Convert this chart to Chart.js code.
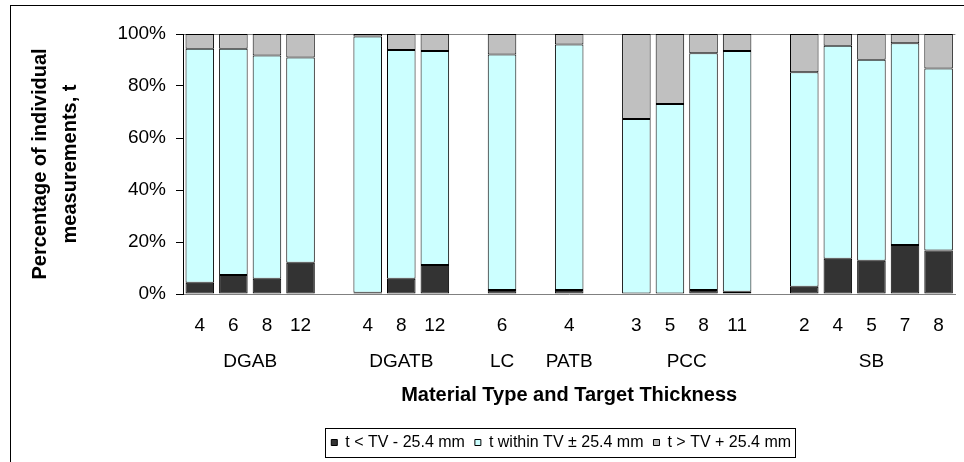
<!DOCTYPE html>
<html>
<head>
<meta charset="utf-8">
<script src="https://cdn.jsdelivr.net/npm/chart.js@4/dist/chart.umd.min.js"></script>
<style>
  html, body { margin: 0; padding: 0; background: #ffffff; }
  #wrap { position: relative; width: 964px; height: 462px; }
</style>
</head>
<body>
<div id="wrap"><canvas id="c" width="964" height="462"></canvas></div>
<script>
// ---- Data ----
const groupNames = ['DGAB', 'DGATB', 'LC', 'PATB', 'PCC', 'SB'];
const thickness = [['4','6','8','12'], ['4','8','12'], ['6'], ['4'], ['3','5','8','11'], ['2','4','5','7','8']];
const belowTV  = [[4.3, 7.3, 5.9, 12.0], [0.5, 5.9, 11.2], [1.5], [1.5], [0, 0, 1.5, 0.9], [2.8, 13.6, 12.8, 18.8, 16.7]];
const withinTV = [[90.0, 87.0, 85.8, 79.0], [98.5, 87.9, 82.3], [90.6], [94.5], [67.3, 73.1, 91.1, 92.6], [82.5, 81.9, 77.3, 77.6, 70.0]];
const aboveTV  = [[5.7, 5.7, 8.3, 9.0], [1.0, 6.2, 6.5], [7.9], [4.0], [32.7, 26.9, 7.4, 6.5], [14.7, 4.5, 9.9, 3.6, 13.3]];
const seriesNames = ['t < TV - 25.4 mm', 't within TV \u00b1 25.4 mm', 't > TV + 25.4 mm'];
const yTicks = [0, 20, 40, 60, 80, 100];

// ---- Flatten into category slots with an empty slot between groups ----
const labels = [], low = [], mid = [], high = [], groupCenters = [];
groupNames.forEach((g, gi) => {
  if (gi > 0) { labels.push(''); low.push(null); mid.push(null); high.push(null); }
  const start = labels.length;
  thickness[gi].forEach((t, i) => {
    labels.push(t); low.push(belowTV[gi][i]); mid.push(withinTV[gi][i]); high.push(aboveTV[gi][i]);
  });
  groupCenters.push((start + labels.length - 1) / 2);
});
const nSlots = labels.length;

const FONT = "'Liberation Sans', Arial, sans-serif";

const frame = {
  id: 'frame',
  afterLayout(chart) {
    const lg = chart.legend;
    if (lg) { lg.left -= 8; lg.right -= 8; }
  },
  beforeDraw(chart) {
    const ctx = chart.ctx;
    ctx.save();
    ctx.fillStyle = '#ffffff';
    ctx.fillRect(0, 0, chart.width, chart.height);
    ctx.restore();
  },
  afterDraw(chart) {
    const ctx = chart.ctx;
    ctx.save();
    ctx.strokeStyle = '#000000';
    ctx.lineWidth = 1;
    ctx.strokeRect(10.5, 5.5, 2000, 2000);
    const lg = chart.legend;
    if (lg && lg.legendHitBoxes && lg.legendHitBoxes.length) {
      const hb = lg.legendHitBoxes;
      const first = hb[0], last = hb[hb.length - 1];
      const cy = first.top + first.height / 2;
      const x0 = Math.round(first.left - 6) + 0.5;
      const x1 = Math.round(last.left + last.width + 4) + 0.5;
      ctx.strokeStyle = '#000000';
      ctx.strokeRect(x0, Math.round(cy - 15) + 0.5, x1 - x0, 29);
    }
    ctx.restore();
  }
};

new Chart(document.getElementById('c'), {
  type: 'bar',
  data: {
    labels: labels,
    datasets: [
      { label: seriesNames[0], data: low,  backgroundColor: '#333333', borderColor: '#000000', borderWidth: 1, borderSkipped: false },
      { label: seriesNames[1], data: mid,  backgroundColor: '#CCFFFF', borderColor: '#000000', borderWidth: 1, borderSkipped: false },
      { label: seriesNames[2], data: high, backgroundColor: '#C0C0C0', borderColor: '#000000', borderWidth: 1, borderSkipped: false }
    ]
  },
  options: {
    responsive: false,
    animation: false,
    devicePixelRatio: 1,
    categoryPercentage: 1.0,
    barPercentage: 0.85,
    layout: { padding: { top: 34, right: 6, left: 0, bottom: 1.5 } },
    plugins: {
      tooltip: { enabled: false },
      legend: {
        position: 'bottom',
        fullSize: false,
        labels: {
          color: '#000000',
          font: { family: FONT, size: 16 },
          boxWidth: 6,
          boxHeight: 6,
          padding: 10
        }
      }
    },
    scales: {
      x: {
        stacked: true,
        offset: true,
        weight: 0,
        grid: { display: false, drawTicks: false },
        border: { display: true, color: '#808080', width: 1 },
        ticks: { color: '#000000', font: { family: FONT, size: 19 }, padding: 20, autoSkip: false, maxRotation: 0 },
        afterFit(s) { s.height = 42; }
      },
      x2: {
        type: 'linear',
        position: 'bottom',
        weight: 1,
        offset: false,
        min: -0.5,
        max: nSlots - 0.5,
        grid: { display: false, drawTicks: false },
        border: { display: false },
        afterBuildTicks(s) { s.ticks = groupCenters.map(v => ({ value: v })); },
        ticks: {
          color: '#000000', font: { family: FONT, size: 19 }, padding: 14, autoSkip: false, maxRotation: 0,
          callback(v, i) { return groupNames[i]; }
        },
        title: {
          display: true,
          text: 'Material Type and Target Thickness',
          color: '#000000',
          font: { family: FONT, size: 20, weight: 'bold' },
          padding: { top: 12, bottom: 17.5 }
        },
        afterFit(s) { s.height = 88.5; }
      },
      y: {
        stacked: true,
        min: 0,
        max: 100,
        afterBuildTicks(s) { s.ticks = yTicks.map(v => ({ value: v })); },
        grid: {
          color: (c) => (c.tick && c.tick.value === 100 ? '#808080' : 'rgba(0,0,0,0)'),
          tickColor: '#000000',
          tickLength: 7
        },
        border: { display: true, color: '#000000', width: 1 },
        ticks: { color: '#000000', font: { family: FONT, size: 19 }, padding: 10, callback: (v) => v + '%' },
        title: {
          display: true,
          text: ['Percentage of individual', 'measurements, t'],
          color: '#000000',
          font: { family: FONT, size: 20, weight: 'bold', lineHeight: '30px' },
          padding: { top: 25, bottom: 0 }
        },
        afterFit(s) { s.width = 183; }
      }
    }
  },
  plugins: [frame]
});
</script>
</body>
</html>
